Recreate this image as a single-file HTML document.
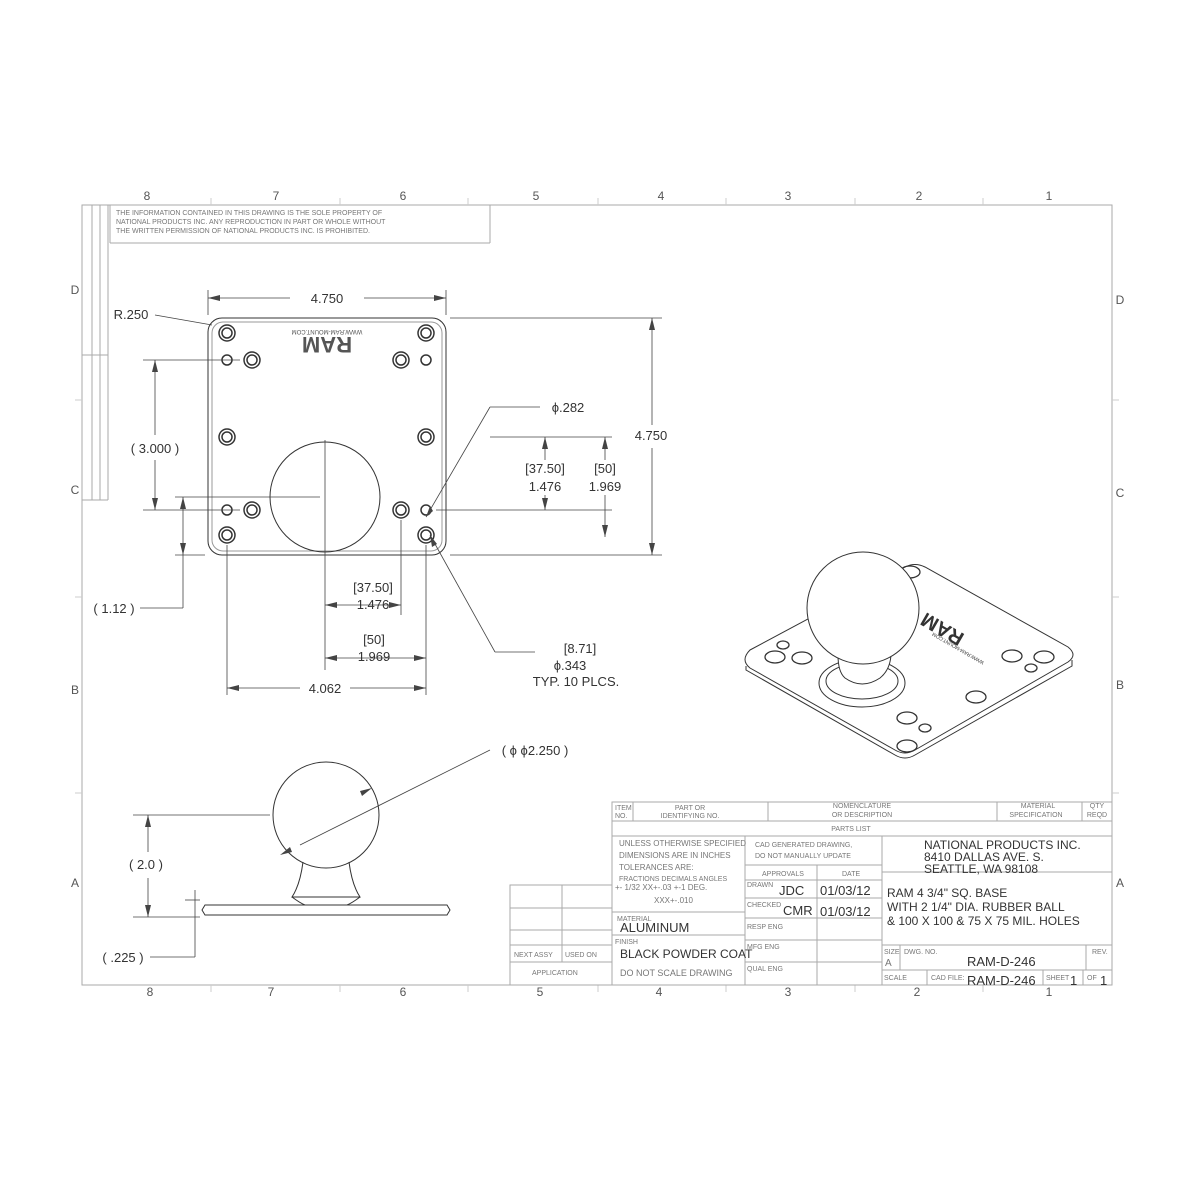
<!DOCTYPE html>
<html><head><style>
html,body{margin:0;padding:0;background:#fff;}
svg{display:block;font-family:"Liberation Sans",sans-serif;}
.t{fill:#777;font-size:7px;}
.d{fill:#333;font-size:13px;}
</style></head><body>
<svg width="1200" height="1200" viewBox="0 0 1200 1200" xmlns="http://www.w3.org/2000/svg">
<rect width="1200" height="1200" fill="#fff"/>
<g fill="none" stroke="#aaa" stroke-width="1">
<rect x="82" y="205" width="1030" height="780"/>
<line x1="110" y1="205" x2="110" y2="243"/><line x1="110" y1="243" x2="490" y2="243"/><line x1="490" y1="205" x2="490" y2="243"/>
<line x1="92" y1="205" x2="92" y2="500"/><line x1="100" y1="205" x2="100" y2="500"/><line x1="108" y1="205" x2="108" y2="500"/>
<line x1="82" y1="500" x2="108" y2="500"/><line x1="82" y1="355" x2="108" y2="355"/>
<g stroke="#ccc">
<line x1="211" y1="198" x2="211" y2="205"/><line x1="340" y1="198" x2="340" y2="205"/><line x1="468" y1="198" x2="468" y2="205"/><line x1="598" y1="198" x2="598" y2="205"/><line x1="726" y1="198" x2="726" y2="205"/><line x1="855" y1="198" x2="855" y2="205"/><line x1="983" y1="198" x2="983" y2="205"/>
<line x1="211" y1="985" x2="211" y2="992"/><line x1="340" y1="985" x2="340" y2="992"/><line x1="468" y1="985" x2="468" y2="992"/><line x1="598" y1="985" x2="598" y2="992"/><line x1="726" y1="985" x2="726" y2="992"/><line x1="855" y1="985" x2="855" y2="992"/><line x1="983" y1="985" x2="983" y2="992"/>
<line x1="75" y1="400" x2="82" y2="400"/><line x1="75" y1="597" x2="82" y2="597"/><line x1="75" y1="793" x2="82" y2="793"/>
<line x1="1112" y1="400" x2="1119" y2="400"/><line x1="1112" y1="597" x2="1119" y2="597"/><line x1="1112" y1="793" x2="1119" y2="793"/>
</g>
</g>
<g fill="#555" font-size="12" text-anchor="middle">
<text x="147" y="200">8</text><text x="276" y="200">7</text><text x="403" y="200">6</text><text x="536" y="200">5</text><text x="661" y="200">4</text><text x="788" y="200">3</text><text x="919" y="200">2</text><text x="1049" y="200">1</text>
<text x="150" y="996">8</text><text x="271" y="996">7</text><text x="403" y="996">6</text><text x="540" y="996">5</text><text x="659" y="996">4</text><text x="788" y="996">3</text><text x="917" y="996">2</text><text x="1049" y="996">1</text>
<text x="75" y="294">D</text><text x="75" y="494">C</text><text x="75" y="694">B</text><text x="75" y="887">A</text>
<text x="1120" y="304">D</text><text x="1120" y="497">C</text><text x="1120" y="689">B</text><text x="1120" y="887">A</text>
</g>
<g class="t" font-size="7.5">
<text x="116" y="215">THE INFORMATION CONTAINED IN THIS DRAWING IS THE SOLE PROPERTY OF</text>
<text x="116" y="224">NATIONAL PRODUCTS INC. ANY REPRODUCTION IN PART OR WHOLE WITHOUT</text>
<text x="116" y="233">THE WRITTEN PERMISSION OF NATIONAL PRODUCTS INC. IS PROHIBITED.</text>
</g>

<!-- front view -->
<g fill="none" stroke="#333" stroke-width="1">
<rect x="208" y="318" width="238" height="237" rx="14"/>
<rect x="212" y="322" width="230" height="229" rx="11" stroke="#999"/>
<circle cx="325" cy="497" r="55"/>
<g stroke-width="1.5">
<circle cx="227" cy="333" r="8"/><circle cx="227" cy="333" r="5"/>
<circle cx="426" cy="333" r="8"/><circle cx="426" cy="333" r="5"/>
<circle cx="252" cy="360" r="8"/><circle cx="252" cy="360" r="5"/>
<circle cx="401" cy="360" r="8"/><circle cx="401" cy="360" r="5"/>
<circle cx="227" cy="437" r="8"/><circle cx="227" cy="437" r="5"/>
<circle cx="426" cy="437" r="8"/><circle cx="426" cy="437" r="5"/>
<circle cx="252" cy="510" r="8"/><circle cx="252" cy="510" r="5"/>
<circle cx="401" cy="510" r="8"/><circle cx="401" cy="510" r="5"/>
<circle cx="227" cy="535" r="8"/><circle cx="227" cy="535" r="5"/>
<circle cx="426" cy="535" r="8"/><circle cx="426" cy="535" r="5"/>
<circle cx="227" cy="360" r="5"/><circle cx="426" cy="360" r="5"/>
<circle cx="227" cy="510" r="5"/><circle cx="426" cy="510" r="5"/>
</g>
</g>
<g fill="#555" text-anchor="middle">
<text x="327" y="353" font-size="22" font-weight="bold" transform="rotate(180 327 345)">RAM</text>
<text x="327" y="334" font-size="6" transform="rotate(180 327 332)">WWW.RAM-MOUNT.COM</text>
</g>
<!-- dims -->
<g stroke="#444" stroke-width="0.8" fill="none">
<line x1="208" y1="290" x2="208" y2="315"/><line x1="446" y1="290" x2="446" y2="315"/>
<line x1="208" y1="298" x2="290" y2="298"/><line x1="364" y1="298" x2="446" y2="298"/>
<line x1="450" y1="318" x2="662" y2="318"/><line x1="450" y1="555" x2="662" y2="555"/>
<line x1="652" y1="318" x2="652" y2="425"/><line x1="652" y1="448" x2="652" y2="555"/>
<line x1="490" y1="437" x2="612" y2="437"/><line x1="436" y1="510" x2="612" y2="510"/>
<line x1="545" y1="437" x2="545" y2="460"/><line x1="545" y1="495" x2="545" y2="510"/>
<line x1="605" y1="437" x2="605" y2="460"/><line x1="605" y1="495" x2="605" y2="537"/>
<line x1="143" y1="360" x2="240" y2="360"/><line x1="143" y1="510" x2="240" y2="510"/>
<line x1="155" y1="360" x2="155" y2="435"/><line x1="155" y1="460" x2="155" y2="510"/>
<line x1="175" y1="497" x2="320" y2="497"/><line x1="175" y1="555" x2="205" y2="555"/>
<line x1="183" y1="497" x2="183" y2="608"/><line x1="140" y1="608" x2="183" y2="608"/>
<line x1="325" y1="440" x2="325" y2="670"/><line x1="401" y1="520" x2="401" y2="615"/><line x1="426" y1="545" x2="426" y2="695"/>
<line x1="227" y1="545" x2="227" y2="695"/>
<line x1="325" y1="605" x2="401" y2="605"/><line x1="325" y1="658" x2="426" y2="658"/>
<line x1="227" y1="688" x2="300" y2="688"/><line x1="350" y1="688" x2="426" y2="688"/>
<line x1="490" y1="407" x2="540" y2="407"/><line x1="490" y1="407" x2="426" y2="517"/>
<line x1="430" y1="535" x2="495" y2="652"/><line x1="495" y1="652" x2="535" y2="652"/>
<line x1="155" y1="315" x2="212" y2="325"/>
</g>
<g fill="#444">
<polygon points="208,298 220,295 220,301"/><polygon points="446,298 434,295 434,301"/>
<polygon points="652,318 649,330 655,330"/><polygon points="652,555 649,543 655,543"/>
<polygon points="545,437 542,449 548,449"/><polygon points="545,510 542,498 548,498"/>
<polygon points="605,437 602,449 608,449"/><polygon points="605,537 602,525 608,525"/>
<polygon points="155,360 152,372 158,372"/><polygon points="155,510 152,498 158,498"/>
<polygon points="183,497 180,509 186,509"/><polygon points="183,555 180,543 186,543"/>
<polygon points="325,605 337,602 337,608"/><polygon points="401,605 389,602 389,608"/>
<polygon points="325,658 337,655 337,661"/><polygon points="426,658 414,655 414,661"/>
<polygon points="227,688 239,685 239,691"/><polygon points="426,688 414,685 414,691"/>
<polygon points="426,517 430,506 433,511"/><polygon points="430,535 432,547 437,544"/>
</g>
<g class="d" text-anchor="middle">
<text x="327" y="303">4.750</text><text x="651" y="440">4.750</text>
<text x="131" y="319">R.250</text>
<text x="155" y="453">( 3.000 )</text>
<text x="545" y="473">[37.50]</text><text x="545" y="491">1.476</text>
<text x="605" y="473">[50]</text><text x="605" y="491">1.969</text>
<text x="568" y="412">ϕ.282</text>
<text x="114" y="613">( 1.12 )</text>
<text x="373" y="592">[37.50]</text><text x="373" y="609">1.476</text>
<text x="374" y="644">[50]</text><text x="374" y="661">1.969</text>
<text x="325" y="693">4.062</text>
<text x="580" y="653">[8.71]</text><text x="570" y="670">ϕ.343</text><text x="576" y="686">TYP. 10 PLCS.</text>
<text x="535" y="755">( ϕ ϕ2.250 )</text>
<text x="146" y="869">( 2.0 )</text>
<text x="123" y="962">( .225 )</text>
</g>

<!-- side view -->
<g fill="none" stroke="#333" stroke-width="1">
<circle cx="326" cy="815" r="53"/>
<path d="M303,862 Q300,885 292,897 L360,897 Q352,885 349,862"/>
<path d="M292,897 Q300,903 305,905 L347,905 Q352,903 360,897"/>
<path d="M205,905 L447,905 L450,910 L447,915 L205,915 L202,910 Z"/>
</g>
<g stroke="#444" stroke-width="0.8" fill="none">
<line x1="490" y1="750" x2="300" y2="845"/>
<line x1="133" y1="815" x2="270" y2="815"/><line x1="133" y1="917" x2="200" y2="917"/>
<line x1="148" y1="815" x2="148" y2="852"/><line x1="148" y1="878" x2="148" y2="917"/>
<line x1="185" y1="900" x2="200" y2="900"/><line x1="195" y1="890" x2="195" y2="957"/><line x1="150" y1="957" x2="195" y2="957"/>
</g>
<g fill="#444">
<polygon points="148,815 145,827 151,827"/><polygon points="148,917 145,905 151,905"/>
<polygon points="372,788 360,791 362,796"/><polygon points="280,855 292,852 290,847"/>
</g>

<!-- iso view -->
<g fill="none" stroke="#333" stroke-width="1">
<path d="M750,650 L905,567 Q915,562 925,567 L1068,647 Q1078,655 1068,662 L915,750 Q905,756 895,750 L750,668 Q740,660 750,650 Z" fill="#fff"/>
<path d="M746,666 L746,670 L895,755 Q905,761 915,755 L1072,666 L1072,660"/>
<ellipse cx="862" cy="683" rx="43" ry="24"/><ellipse cx="862" cy="681" rx="36" ry="18"/>
<g stroke-width="1.3">
<ellipse cx="775" cy="657" rx="10" ry="6"/><ellipse cx="802" cy="658" rx="10" ry="6"/><ellipse cx="783" cy="645" rx="6" ry="4"/>
<ellipse cx="910" cy="572" rx="10" ry="6"/>
<ellipse cx="1012" cy="656" rx="10" ry="6"/><ellipse cx="1044" cy="657" rx="10" ry="6"/><ellipse cx="1031" cy="668" rx="6" ry="4"/>
<ellipse cx="976" cy="697" rx="10" ry="6"/><ellipse cx="907" cy="718" rx="10" ry="6"/><ellipse cx="907" cy="746" rx="10" ry="6"/><ellipse cx="925" cy="728" rx="6" ry="4"/>
</g>
<path d="M838,655 Q838,672 845,678 Q862,690 880,678 Q890,670 891,655" fill="#fff"/>
<circle cx="863" cy="608" r="56" fill="#fff"/>
</g>
<text x="948" y="610" fill="#333" font-size="20" font-weight="bold" transform="rotate(210 960 620)">RAM</text>
<text x="918" y="596" fill="#333" font-size="5" transform="rotate(210 960 620)">WWW.RAM-MOUNT.COM</text>

<!-- title block -->
<g fill="none" stroke="#aaa" stroke-width="1">
<rect x="612" y="802" width="500" height="183"/>
<line x1="612" y1="821" x2="1112" y2="821"/><line x1="612" y1="836" x2="1112" y2="836"/>
<line x1="633" y1="802" x2="633" y2="821"/><line x1="768" y1="802" x2="768" y2="821"/><line x1="997" y1="802" x2="997" y2="821"/><line x1="1082" y1="802" x2="1082" y2="821"/>
<line x1="745" y1="836" x2="745" y2="985"/><line x1="882" y1="836" x2="882" y2="985"/><line x1="817" y1="865" x2="817" y2="985"/>
<line x1="612" y1="912" x2="745" y2="912"/><line x1="612" y1="935" x2="745" y2="935"/>
<line x1="745" y1="865" x2="882" y2="865"/><line x1="745" y1="880" x2="882" y2="880"/><line x1="745" y1="898" x2="882" y2="898"/><line x1="745" y1="918" x2="882" y2="918"/><line x1="745" y1="940" x2="882" y2="940"/><line x1="745" y1="962" x2="882" y2="962"/>
<line x1="882" y1="872" x2="1112" y2="872"/><line x1="882" y1="945" x2="1112" y2="945"/><line x1="882" y1="970" x2="1112" y2="970"/>
<line x1="900" y1="945" x2="900" y2="970"/><line x1="1086" y1="945" x2="1086" y2="970"/>
<line x1="927" y1="970" x2="927" y2="985"/><line x1="1043" y1="970" x2="1043" y2="985"/><line x1="1083" y1="970" x2="1083" y2="985"/>
<rect x="510" y="885" width="102" height="100"/>
<line x1="562" y1="885" x2="562" y2="962"/>
<line x1="510" y1="908" x2="612" y2="908"/><line x1="510" y1="930" x2="612" y2="930"/><line x1="510" y1="945" x2="612" y2="945"/><line x1="510" y1="962" x2="612" y2="962"/>
</g>
<g class="t">
<text x="615" y="810">ITEM</text><text x="615" y="818">NO.</text>
<text x="690" y="810" text-anchor="middle">PART  OR</text><text x="690" y="818" text-anchor="middle">IDENTIFYING NO.</text>
<text x="862" y="808" text-anchor="middle">NOMENCLATURE</text><text x="862" y="817" text-anchor="middle">OR DESCRIPTION</text>
<text x="1038" y="808" text-anchor="middle">MATERIAL</text><text x="1036" y="817" text-anchor="middle">SPECIFICATION</text>
<text x="1097" y="808" text-anchor="middle">QTY</text><text x="1097" y="817" text-anchor="middle">REQD</text>
<text x="851" y="831" text-anchor="middle">PARTS  LIST</text>
<text x="619" y="846" font-size="8">UNLESS  OTHERWISE  SPECIFIED</text>
<text x="619" y="858" font-size="8">DIMENSIONS  ARE  IN  INCHES</text>
<text x="619" y="870" font-size="8">TOLERANCES  ARE:</text>
<text x="619" y="881">FRACTIONS  DECIMALS     ANGLES</text>
<text x="615" y="890" font-size="8">+- 1/32   XX+-.03   +-1 DEG.</text>
<text x="654" y="903" font-size="8">XXX+-.010</text>
<text x="617" y="921">MATERIAL</text><text x="615" y="944">FINISH</text>
<text x="755" y="847">CAD GENERATED DRAWING,</text><text x="755" y="858">DO NOT MANUALLY UPDATE</text>
<text x="762" y="876">APPROVALS</text><text x="842" y="876">DATE</text>
<text x="747" y="887">DRAWN</text><text x="747" y="907">CHECKED</text><text x="747" y="929">RESP ENG</text><text x="747" y="949">MFG ENG</text><text x="747" y="971">QUAL ENG</text>
<text x="884" y="954">SIZE</text><text x="904" y="954">DWG.  NO.</text><text x="1092" y="954">REV.</text>
<text x="884" y="980">SCALE</text><text x="931" y="980">CAD  FILE:</text><text x="1046" y="980">SHEET</text><text x="1087" y="980">OF</text>
<text x="514" y="957">NEXT ASSY</text><text x="565" y="957">USED ON</text><text x="532" y="975">APPLICATION</text>
</g>
<g fill="#333">
<text x="620" y="932" font-size="13">ALUMINUM</text>
<text x="620" y="958" font-size="12">BLACK POWDER COAT</text>
<text x="620" y="976" font-size="9" fill="#777">DO NOT SCALE DRAWING</text>
<text x="779" y="895" font-size="13">JDC</text><text x="820" y="895" font-size="13">01/03/12</text>
<text x="783" y="915" font-size="13">CMR</text><text x="820" y="916" font-size="13">01/03/12</text>
<text x="924" y="849" font-size="12">NATIONAL PRODUCTS INC.</text>
<text x="924" y="861" font-size="12">8410 DALLAS AVE. S.</text>
<text x="924" y="873" font-size="12">SEATTLE, WA 98108</text>
<text x="887" y="897" font-size="12">RAM 4 3/4" SQ. BASE</text>
<text x="887" y="911" font-size="12">WITH 2 1/4" DIA. RUBBER BALL</text>
<text x="887" y="925" font-size="12">&amp; 100 X 100 &amp; 75 X 75 MIL. HOLES</text>
<text x="885" y="966" font-size="10" fill="#777">A</text>
<text x="967" y="966" font-size="13">RAM-D-246</text>
<text x="967" y="985" font-size="13">RAM-D-246</text>
<text x="1070" y="985" font-size="13">1</text><text x="1100" y="985" font-size="13">1</text>
</g>
</svg>
</body></html>
